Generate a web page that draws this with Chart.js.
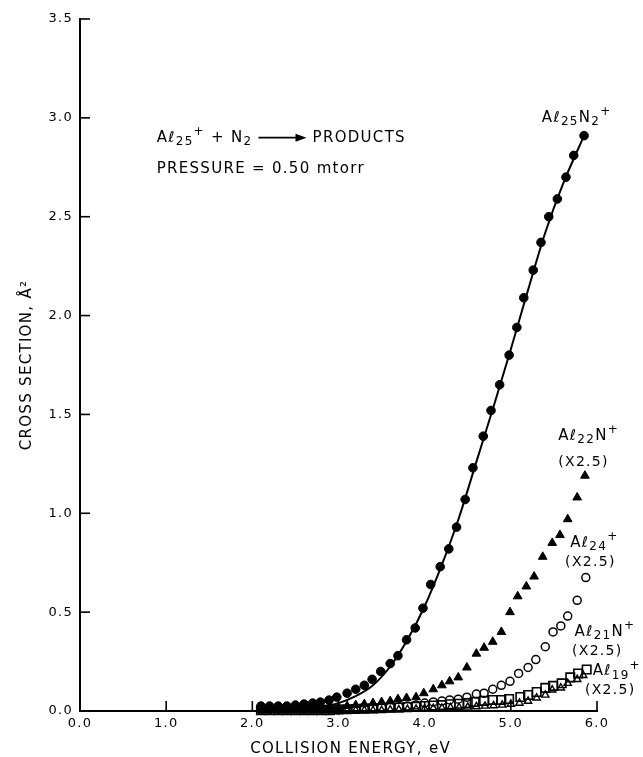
<!DOCTYPE html>
<html>
<head>
<meta charset="utf-8">
<script src="https://cdn.jsdelivr.net/npm/chart.js@4.4.1/dist/chart.umd.min.js"></script>
<style>
  html, body { margin: 0; padding: 0; background: #fff; }
  #wrap { width: 643px; height: 757px; }
</style>
</head>
<body>
<div id="wrap"><canvas id="chart" width="643" height="757"></canvas></div>
<script>
// Al25+ + N2 -> Produkte, Wirkungsquerschnitt gegen Stossenergie

const FONT = '"DejaVu Sans", sans-serif';
const SPACING = '1.3px';

// Achsen
const xTickValues = [0, 1, 2, 3, 4, 5, 6];
const xTickLabels = ['0.0', '1.0', '2.0', '3.0', '4.0', '5.0', '6.0'];
const yTickValues = [0, 0.5, 1.0, 1.5, 2.0, 2.5, 3.0, 3.5];
const yTickLabels = ['0.0', '0.5', '1.0', '1.5', '2.0', '2.5', '3.0', '3.5'];

// Al25N2+ (gefuellte Kreise)
const al25n2Energy = [2.10, 2.20, 2.30, 2.40, 2.50, 2.60, 2.70, 2.79, 2.89, 2.98,
  3.10, 3.20, 3.30, 3.39, 3.49, 3.60, 3.69, 3.79, 3.89, 3.98,
  4.07, 4.18, 4.28, 4.37, 4.47, 4.56, 4.68, 4.77, 4.87, 4.98,
  5.07, 5.15, 5.26, 5.35, 5.44, 5.54, 5.64, 5.73, 5.85];
const al25n2Values = [0.025, 0.025, 0.025, 0.025, 0.03, 0.035, 0.04, 0.045, 0.055, 0.07,
  0.09, 0.11, 0.13, 0.16, 0.20, 0.24, 0.28, 0.36, 0.42, 0.52,
  0.64, 0.73, 0.82, 0.93, 1.07, 1.23, 1.39, 1.52, 1.65, 1.80,
  1.94, 2.09, 2.23, 2.37, 2.50, 2.59, 2.70, 2.81, 2.91];

// Ausgleichskurve fuer Al25N2+
const fitEnergy = [2.1, 2.3, 2.5, 2.7, 2.9, 3.0, 3.2, 3.4, 3.6, 3.8,
  4.0, 4.2, 4.4, 4.6, 4.8, 5.0, 5.2, 5.4, 5.6, 5.85];
const fitValues = [0.005, 0.006, 0.01, 0.018, 0.03, 0.04, 0.075, 0.13, 0.225, 0.36,
  0.53, 0.74, 0.98, 1.26, 1.54, 1.83, 2.13, 2.42, 2.66, 2.91];

// Al22N+ (x2.5, gefuellte Dreiecke)
const al22nEnergy = [2.10, 2.20, 2.30, 2.40, 2.50, 2.60, 2.70, 2.80, 2.90, 3.00,
  3.10, 3.20, 3.30, 3.40, 3.50, 3.60, 3.69, 3.79, 3.90, 3.99,
  4.10, 4.20, 4.29, 4.39, 4.49, 4.60, 4.69, 4.79, 4.89, 4.99,
  5.08, 5.18, 5.27, 5.37, 5.48, 5.57, 5.66, 5.77, 5.86];
const al22nValues = [0.01, 0.01, 0.01, 0.01, 0.01, 0.012, 0.012, 0.015, 0.018, 0.02,
  0.025, 0.03, 0.035, 0.04, 0.045, 0.05, 0.06, 0.066, 0.07, 0.09,
  0.11, 0.13, 0.15, 0.17, 0.22, 0.29, 0.32, 0.35, 0.40, 0.50,
  0.58, 0.63, 0.68, 0.78, 0.85, 0.89, 0.97, 1.08, 1.19];

// Al24+ (x2.5, offene Kreise)
const al24Energy = [2.1, 2.2, 2.3, 2.4, 2.5, 2.6, 2.7, 2.8, 2.9, 3.0,
  3.1, 3.2, 3.3, 3.4, 3.5, 3.6, 3.7, 3.8,
  3.90, 4.00, 4.10, 4.20, 4.29, 4.39, 4.49, 4.60, 4.69, 4.79,
  4.89, 4.99, 5.09, 5.20, 5.29, 5.40, 5.49, 5.58, 5.66, 5.77, 5.87];
const al24Values = [0.005, 0.005, 0.005, 0.005, 0.005, 0.005, 0.005, 0.005, 0.005, 0.005,
  0.008, 0.01, 0.012, 0.015, 0.018, 0.02, 0.022, 0.025,
  0.03, 0.04, 0.046, 0.05, 0.056, 0.06, 0.07, 0.086, 0.09, 0.11,
  0.13, 0.15, 0.19, 0.22, 0.26, 0.325, 0.40, 0.43, 0.48, 0.56, 0.675];

// Al21N+ (x2.5, offene Quadrate)
const al21nEnergy = [2.1, 2.2, 2.3, 2.4, 2.5, 2.6, 2.7, 2.8, 2.9, 3.0,
  3.1, 3.2, 3.3, 3.4, 3.5, 3.6, 3.7, 3.8, 3.9, 4.0,
  4.1, 4.2, 4.3, 4.4, 4.5,
  4.58, 4.69, 4.79, 4.89, 4.98, 5.11, 5.20, 5.30, 5.40, 5.49, 5.59, 5.69, 5.78, 5.88];
const al21nValues = [0.004, 0.004, 0.004, 0.004, 0.004, 0.004, 0.004, 0.004, 0.004, 0.008,
  0.009, 0.01, 0.012, 0.013, 0.015, 0.017, 0.018, 0.02, 0.022, 0.025,
  0.028, 0.03, 0.034, 0.037, 0.04,
  0.046, 0.051, 0.056, 0.056, 0.061, 0.071, 0.081, 0.096, 0.117, 0.127, 0.14, 0.17, 0.19, 0.21];

// Al19+ (x2.5, offene Dreiecke)
const al19Energy = [2.1, 2.2, 2.3, 2.4, 2.5, 2.6, 2.7, 2.8, 2.9, 3.0,
  3.1, 3.2, 3.3, 3.4, 3.5, 3.6, 3.7, 3.8, 3.9, 4.0,
  4.1, 4.2, 4.3, 4.4, 4.5, 4.6, 4.7, 4.8, 4.9, 5.0, 5.1,
  5.20, 5.30, 5.40, 5.48, 5.58, 5.66, 5.77, 5.84];
const al19Values = [0.003, 0.003, 0.003, 0.003, 0.003, 0.003, 0.003, 0.003, 0.003, 0.003,
  0.003, 0.003, 0.003, 0.003, 0.003, 0.006, 0.007, 0.008, 0.01, 0.012,
  0.014, 0.015, 0.017, 0.018, 0.02, 0.022, 0.025, 0.027, 0.03, 0.035, 0.04,
  0.05, 0.066, 0.081, 0.107, 0.117, 0.14, 0.16, 0.18];

// Beschriftungen im Diagramm (Position in Datenkoordinaten, linker Rand / Mitte)
const annotations = [
  { at: [0.89, 2.90], parts: [['A\u2113'], ['25', 'sub'], ['+', 'sup'], [' + N'], ['2', 'sub'], [' '], [48, 'arrow'], [' PRODUCTS']] },
  { at: [0.89, 2.74], parts: [['PRESSURE = 0.50 mtorr']] },
  { at: [5.36, 3.00], parts: [['A\u2113'], ['25', 'sub'], ['N'], ['2', 'sub'], ['+', 'sup']] },
  { at: [5.55, 1.39], parts: [['A\u2113'], ['22', 'sub'], ['N'], ['+', 'sup']] },
  { at: [5.55, 1.26], parts: [['(X2.5)']] },
  { at: [5.69, 0.85], parts: [['A\u2113'], ['24', 'sub'], ['+', 'sup']] },
  { at: [5.63, 0.75], parts: [['(X2.5)']] },
  { at: [5.74, 0.40], parts: [['A\u2113'], ['21', 'sub'], ['N'], ['+', 'sup']] },
  { at: [5.71, 0.30], parts: [['(X2.5)']] },
  { at: [5.95, 0.20], parts: [['A\u2113'], ['19', 'sub'], ['+', 'sup']] },
  { at: [5.86, 0.105], parts: [['(X2.5)']] }
];
const xTitle = 'COLLISION ENERGY, eV';
const yTitle = 'CROSS SECTION, \u00C5\u00B2';

const toPoints = (xs, ys) => xs.map((x, i) => ({ x: x, y: ys[i] }));

/**
 * Text mit Tief-/Hochstellung und Pfeil zeichnen
 */
const drawRich = (ctx, parts, x, y, size) => {
    const small = Math.round(size * 0.82);
    let cx = x;
    parts.forEach(([t, kind]) => {
        if (kind === 'arrow') {
            ctx.save();
            ctx.lineWidth = 1.6;
            ctx.beginPath();
            ctx.moveTo(cx, y);
            ctx.lineTo(cx + t - 8, y);
            ctx.stroke();
            ctx.beginPath();
            ctx.moveTo(cx + t, y);
            ctx.lineTo(cx + t - 11, y - 4);
            ctx.lineTo(cx + t - 11, y + 4);
            ctx.closePath();
            ctx.fill();
            ctx.restore();
            cx += t;
            return;
        }
        const sz = kind ? small : size;
        ctx.font = `${sz}px ${FONT}`;
        const dy = kind === 'sub' ? 4 : kind === 'sup' ? -6 : 0;
        ctx.fillText(t, cx, y + dy);
        cx += ctx.measureText(t).width;
    });
};

const spacingPlugin = {
    id: 'spacing',
    beforeUpdate(chart) { chart.ctx.letterSpacing = SPACING; },
    beforeLayout(chart) { chart.ctx.letterSpacing = SPACING; },
    beforeDraw(chart) {
        const ctx = chart.ctx;
        ctx.letterSpacing = SPACING;
        ctx.save();
        ctx.fillStyle = '#fff';
        ctx.fillRect(0, 0, chart.width, chart.height);
        ctx.restore();
    }
};

// Teilstriche nach innen
const inwardTicks = {
    id: 'inwardTicks',
    afterDatasetsDraw(chart) {
        const { ctx, chartArea, scales: { x, y } } = chart;
        ctx.save();
        ctx.strokeStyle = '#000';
        ctx.lineWidth = 1.6;
        x.ticks.forEach(t => {
            const px = x.getPixelForValue(t.value);
            ctx.beginPath();
            ctx.moveTo(px, chartArea.bottom);
            ctx.lineTo(px, chartArea.bottom - 10);
            ctx.stroke();
        });
        y.ticks.forEach(t => {
            const py = y.getPixelForValue(t.value);
            ctx.beginPath();
            ctx.moveTo(chartArea.left, py);
            ctx.lineTo(chartArea.left + 10, py);
            ctx.stroke();
        });
        ctx.restore();
    }
};

const labelPlugin = {
    id: 'labels',
    afterDraw(chart) {
        const { ctx, chartArea, scales: { x, y } } = chart;
        ctx.save();
        ctx.letterSpacing = SPACING;
        ctx.fillStyle = '#000';
        ctx.strokeStyle = '#000';
        ctx.textBaseline = 'middle';
        ctx.textAlign = 'left';
        annotations.forEach(a => {
            const size = a.parts.length === 1 && a.parts[0][0].startsWith('(') ? 14 : 15;
            drawRich(ctx, a.parts, x.getPixelForValue(a.at[0]), y.getPixelForValue(a.at[1]), size);
        });
        // X-Achsentitel
        ctx.font = `15px ${FONT}`;
        ctx.textAlign = 'center';
        ctx.fillText(xTitle, x.getPixelForValue(3.14), chartArea.bottom + 38);
        ctx.restore();
    }
};

const ctx = document.getElementById('chart').getContext('2d');

new Chart(ctx, {
    type: 'scatter',
    data: {
        datasets: [
            {
                label: 'Fit',
                data: toPoints(fitEnergy, fitValues),
                showLine: true,
                borderColor: '#000',
                borderWidth: 2,
                pointRadius: 0,
                cubicInterpolationMode: 'monotone',
                order: 1
            },
            {
                label: 'Al25N2+',
                data: toPoints(al25n2Energy, al25n2Values),
                pointStyle: 'circle',
                pointRadius: 4.3,
                backgroundColor: '#000',
                borderColor: '#000',
                borderWidth: 1,
                order: 0
            },
            {
                label: 'Al22N+ (x2.5)',
                data: toPoints(al22nEnergy, al22nValues),
                pointStyle: 'triangle',
                pointRadius: 5,
                backgroundColor: '#000',
                borderColor: '#000',
                borderWidth: 1,
                order: 2
            },
            {
                label: 'Al24+ (x2.5)',
                data: toPoints(al24Energy, al24Values),
                pointStyle: 'circle',
                pointRadius: 4,
                backgroundColor: 'rgba(255,255,255,0)',
                borderColor: '#000',
                borderWidth: 1.5,
                order: 3
            },
            {
                label: 'Al21N+ (x2.5)',
                data: toPoints(al21nEnergy, al21nValues),
                pointStyle: 'rect',
                pointRadius: 6,
                backgroundColor: 'rgba(255,255,255,0)',
                borderColor: '#000',
                borderWidth: 1.6,
                order: 4
            },
            {
                label: 'Al19+ (x2.5)',
                data: toPoints(al19Energy, al19Values),
                pointStyle: 'triangle',
                pointRadius: 4.2,
                backgroundColor: 'rgba(255,255,255,0)',
                borderColor: '#000',
                borderWidth: 1.4,
                order: 5
            }
        ]
    },
    options: {
        responsive: false,
        animation: false,
        events: [],
        clip: false,
        layout: { padding: { left: 0, right: 46, top: 19, bottom: 0 } },
        plugins: {
            legend: { display: false },
            tooltip: { enabled: false }
        },
        scales: {
            x: {
                type: 'linear',
                min: 0,
                max: 6,
                afterBuildTicks: scale => { scale.ticks = xTickValues.map(v => ({ value: v })); },
                afterFit: scale => { scale.height = 46; },
                grid: { display: true, drawOnChartArea: false, drawTicks: false },
                border: { display: true, color: '#000', width: 2 },
                ticks: {
                    padding: 5,
                    color: '#000',
                    maxRotation: 0,
                    autoSkip: false,
                    font: { family: FONT, size: 13 },
                    callback: (v, i) => xTickLabels[i]
                },
                title: { display: false }
            },
            y: {
                type: 'linear',
                min: 0,
                max: 3.5,
                afterBuildTicks: scale => { scale.ticks = yTickValues.map(v => ({ value: v })); },
                afterFit: scale => { scale.width = 80; },
                grid: { display: true, drawOnChartArea: false, drawTicks: false },
                border: { display: true, color: '#000', width: 2 },
                ticks: {
                    padding: 7,
                    color: '#000',
                    autoSkip: false,
                    font: { family: FONT, size: 13 },
                    callback: (v, i) => yTickLabels[i]
                },
                title: {
                    display: true,
                    text: yTitle,
                    color: '#000',
                    font: { family: FONT, size: 15 },
                    padding: { top: 18, bottom: 0 }
                }
            }
        }
    },
    plugins: [spacingPlugin, inwardTicks, labelPlugin]
});
</script>
</body>
</html>
